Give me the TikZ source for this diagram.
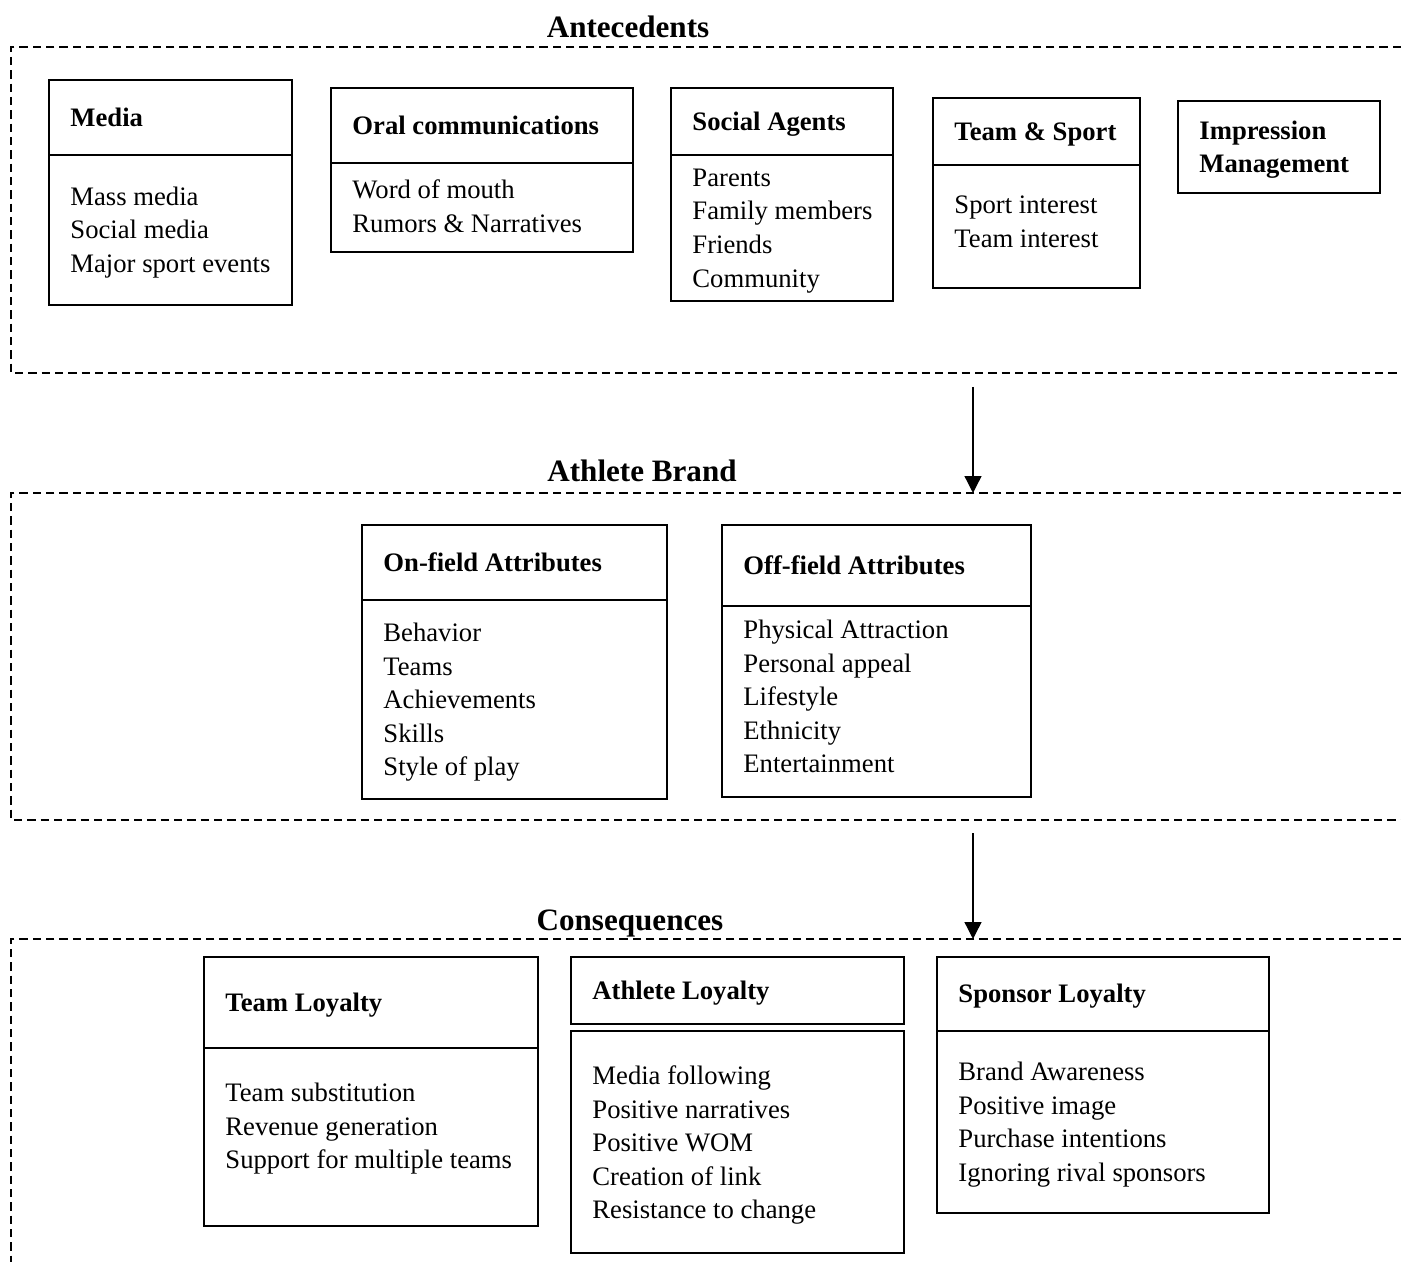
\documentclass[tikz,border=0pt]{standalone}
\usepackage{fontspec}
\setmainfont{Liberation Serif}
\usetikzlibrary{positioning,arrows.meta}

\def\pxu{0.45pt}

\begin{document}
\begin{tikzpicture}[x=0.45pt,y=-0.45pt,
    frame/.style={dash pattern=on 3.7pt off 2.3pt, line width=1.2pt},
    box/.style={rectangle,draw,line width=1pt,inner sep=0pt,outer sep=0pt},
    hbox/.style 2 args={box,minimum width=#1*\pxu,minimum height=#2*\pxu},
    head/.style={font=\fontsize{12}{15.1}\selectfont\bfseries,anchor=west,xshift=9.45pt,
                 inner sep=0pt,text height=7.9pt,text depth=0pt},
    items/.style={font=\fontsize{12}{15.1}\selectfont,anchor=north west,align=left,
                  inner sep=0pt,execute at begin node=\strut},
    title/.style={font=\fontsize{14}{16}\selectfont\bfseries,anchor=base},
    flow/.style={-{Triangle[length=7.6pt,width=7.6pt]},line width=0.6pt}]

    \useasboundingbox (0,0) rectangle (1401,1262);

    % Antecedents
    \node[title] (antet) at (628,38) {Antecedents};
    \draw[frame] (1401,47) -- (11,47) -- (11,373) -- (1401,373);

    \node[hbox={243}{75},anchor=north west] (media) at (49,80) {};
    \node[hbox={243}{150},below=0pt of media] (mediab) {};
    \node[head] (mediat) at (media.west) {Media};
    \node[items] (mediai) at (70,186.5) {Mass media\\Social media\\Major sport events};

    \node[hbox={302}{75},anchor=north west] (oral) at (331,88) {};
    \node[hbox={302}{89},below=0pt of oral] (oralb) {};
    \node[head] (oralt) at (oral.west) {Oral communications};
    \node[items] (orali) at (352,179.5) {Word of mouth\\Rumors \& Narratives};

    \node[hbox={222}{67},anchor=north west] (agents) at (671,88) {};
    \node[hbox={222}{146},below=0pt of agents] (agentsb) {};
    \node[head] (agentst) at (agents.west) {Social Agents};
    \node[items] (agentsi) at (692,168.5) {Parents\\Family members\\Friends\\Community};

    \node[hbox={207}{67},anchor=north west] (team) at (933,98) {};
    \node[hbox={207}{123},below=0pt of team] (teamb) {};
    \node[head] (teamt) at (team.west) {Team \& Sport};
    \node[items] (teami) at (954,195.5) {Sport interest\\Team interest};

    \node[hbox={202}{92},anchor=north west] (impr) at (1178,101) {};
    \node[items,font=\fontsize{12}{15.1}\selectfont\bfseries] (imprt) at (1199,120.5) {Impression\\Management};

    \coordinate (a1) at (973,387);
    \coordinate (brandin) at (973,493);
    \draw[flow] (a1) -- (brandin);

    % Athlete Brand
    \node[title] (brandt) at (642,482) {Athlete Brand};
    \draw[frame] (1401,493) -- (11,493) -- (11,820) -- (1401,820);

    \node[hbox={305}{75},anchor=north west] (onf) at (362,525) {};
    \node[hbox={305}{199},below=0pt of onf] (onfb) {};
    \node[head] (onft) at (onf.west) {On-field Attributes};
    \node[items] (onfi) at (383,622.5) {Behavior\\Teams\\Achievements\\Skills\\Style of play};

    \node[hbox={309}{81},anchor=north west] (offf) at (722,525) {};
    \node[hbox={309}{191},below=0pt of offf] (offfb) {};
    \node[head] (offft) at (offf.west) {Off-field Attributes};
    \node[items] (offfi) at (743,619.5) {Physical Attraction\\Personal appeal\\Lifestyle\\Ethnicity\\Entertainment};

    \coordinate (a2) at (973,833);
    \coordinate (consin) at (973,939);
    \draw[flow] (a2) -- (consin);

    % Consequences
    \node[title] (const) at (630,930) {Consequences};
    \draw[frame] (1401,939) -- (11,939) -- (11,1262);

    \node[hbox={334}{91},anchor=north west] (tloy) at (204,957) {};
    \node[hbox={334}{178},below=0pt of tloy] (tloyb) {};
    \node[head] (tloyt) at (tloy.west) {Team Loyalty};
    \node[items] (tloyi) at (225,1082.5) {Team substitution\\Revenue generation\\Support for multiple teams};

    \node[hbox={333}{67},anchor=north west] (aloy) at (571,957) {};
    \node[hbox={333}{222},below=3.15pt of aloy] (aloyb) {};
    \node[head] (aloyt) at (aloy.west) {Athlete Loyalty};
    \node[items] (aloyi) at (592,1065.5) {Media following\\Positive narratives\\Positive WOM\\Creation of link\\Resistance to change};

    \node[hbox={332}{74},anchor=north west] (sloy) at (937,957) {};
    \node[hbox={332}{182},below=0pt of sloy] (sloyb) {};
    \node[head] (sloyt) at (sloy.west) {Sponsor Loyalty};
    \node[items] (sloyi) at (958,1061.5) {Brand Awareness\\Positive image\\Purchase intentions\\Ignoring rival sponsors};
\end{tikzpicture}
\end{document}
